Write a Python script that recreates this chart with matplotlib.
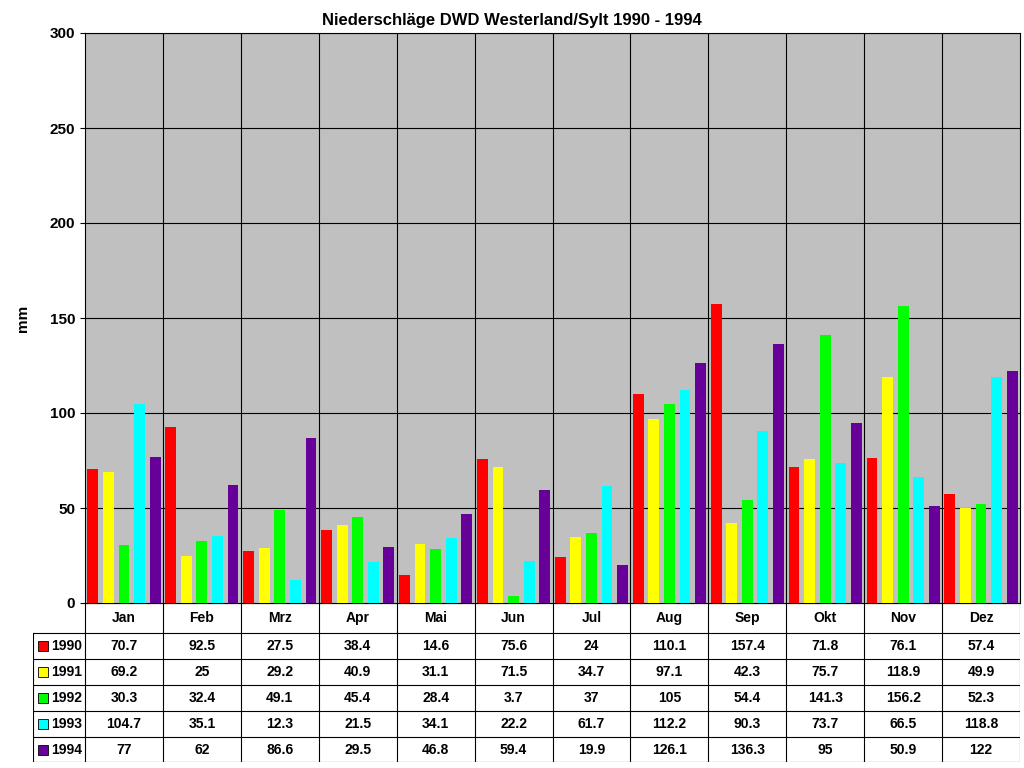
import matplotlib
matplotlib.use("Agg")
import matplotlib.pyplot as plt
from matplotlib.patches import Rectangle

plt.rcParams["font.family"] = ["Liberation Sans", "DejaVu Sans"]

months = ["Jan", "Feb", "Mrz", "Apr", "Mai", "Jun", "Jul", "Aug", "Sep", "Okt", "Nov", "Dez"]
years = ["1990", "1991", "1992", "1993", "1994"]
colors = ["#FF0000", "#FFFF00", "#00FF00", "#00FFFF", "#660099"]
v1990 = [70.7, 92.5, 27.5, 38.4, 14.6, 75.6, 24, 110.1, 157.4, 71.8, 76.1, 57.4]
v1991 = [69.2, 25, 29.2, 40.9, 31.1, 71.5, 34.7, 97.1, 42.3, 75.7, 118.9, 49.9]
v1992 = [30.3, 32.4, 49.1, 45.4, 28.4, 3.7, 37, 105, 54.4, 141.3, 156.2, 52.3]
v1993 = [104.7, 35.1, 12.3, 21.5, 34.1, 22.2, 61.7, 112.2, 90.3, 73.7, 66.5, 118.8]
v1994 = [77, 62, 86.6, 29.5, 46.8, 59.4, 19.9, 126.1, 136.3, 95, 50.9, 122]
series = [v1990, v1991, v1992, v1993, v1994]

fig = plt.figure(figsize=(10.24, 7.68), dpi=100)
ax = fig.add_axes([85/1024, 1-603/768, 935/1024, 570/768])
ax.set_facecolor("#C0C0C0")
for k, vals in enumerate(series):
    xs = [i + 0.1 + 0.2 * k for i in range(12)]
    ax.bar(xs, vals, width=0.14, color=colors[k], zorder=3)
ax.set_xlim(0, 12)
ax.set_ylim(0, 300)
ax.set_yticks(range(0, 301, 50))
ax.set_xticks([])
for y in range(50, 301, 50):
    ax.axhline(y, color="black", lw=0.8, zorder=1)
for i in range(1, 12):
    ax.axvline(i, color="black", lw=0.8, zorder=1)
for lbl in ax.get_yticklabels():
    lbl.set_fontweight("bold")
    lbl.set_fontsize(11)
ax.set_ylabel("mm", fontweight="bold", fontsize=11)
ax.yaxis.set_label_coords(-55/935, 0.5)
fig.text(0.5, 1 - 20/768, "Niederschläge DWD Westerland/Sylt 1990 - 1994",
         ha="center", va="center", fontweight="bold", fontsize=12)

# data table
tx = fig.add_axes([33/1024, 6/768, 987/1024, 159/768])
tx.set_xlim(-52/77.9, 12)
tx.set_ylim(159, 0)
tx.axis("off")
row_y = [30 + 26 * r for r in range(6)]
row_y[-1] = 159
for i in range(13):
    tx.plot([i, i], [0, 159], color="black", lw=0.8)
tx.plot([-52/77.9, -52/77.9], [30, 159], color="black", lw=0.8)
for y in row_y:
    tx.plot([-52/77.9, 12], [y, y], color="black", lw=0.8)
tx.plot([0, 12], [0, 0], color="black", lw=0.8)
for i, m in enumerate(months):
    tx.text(i + 0.5, 15, m, ha="center", va="center", fontweight="bold", fontsize=10)
for k, vals in enumerate(series):
    yc = (row_y[k] + row_y[k + 1]) / 2
    tx.add_patch(Rectangle((-0.6, yc - 5), 0.13, 10, facecolor=colors[k], edgecolor="black", lw=0.6))
    tx.text(-0.43, yc, years[k], ha="left", va="center", fontweight="bold", fontsize=10)
    for i, v in enumerate(vals):
        tx.text(i + 0.5, yc, f"{v:g}", ha="center", va="center", fontweight="bold", fontsize=10)

fig.savefig("out.png", dpi=100)
